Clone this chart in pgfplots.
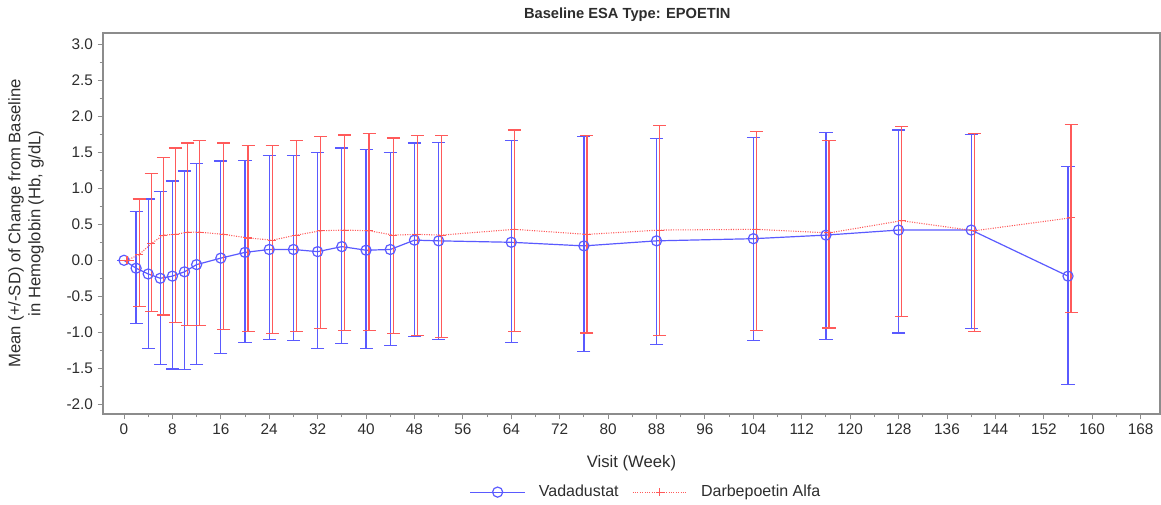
\documentclass[border=0pt]{standalone}
\usepackage{pgfplots}
\pgfplotsset{compat=1.18}
\usepackage{pgfplotstable}
\usepackage{fontspec}
\setmainfont{Liberation Sans}
\definecolor{vblue}{RGB}{90,90,255}
\definecolor{dred}{RGB}{255,90,90}
\definecolor{framegray}{RGB}{140,140,140}
\definecolor{txt}{RGB}{45,45,45}

% Vadadustat: week, mean, mean+SD, mean-SD
\pgfplotstableread{
x m hi lo
0 0.00 0.00 0.00
2 -0.11 0.68 -0.88
4 -0.19 0.85 -1.22
6 -0.25 0.95 -1.45
8 -0.22 1.10 -1.51
10 -0.16 1.24 -1.52
12 -0.06 1.34 -1.45
16 0.03 1.38 -1.29
20 0.11 1.39 -1.14
24 0.15 1.45 -1.10
28 0.15 1.46 -1.11
32 0.12 1.50 -1.22
36 0.19 1.56 -1.16
40 0.14 1.54 -1.22
44 0.15 1.50 -1.18
48 0.28 1.63 -1.06
52 0.27 1.64 -1.10
64 0.25 1.66 -1.14
76 0.20 1.72 -1.27
88 0.27 1.69 -1.17
104 0.30 1.71 -1.11
116 0.35 1.78 -1.10
128 0.42 1.81 -1.01
140 0.42 1.75 -0.95
156 -0.22 1.30 -1.73
}\vada

% Darbepoetin Alfa (plotted slightly offset): week, mean, mean+SD, mean-SD
\pgfplotstableread{
x m hi lo
0.5 0.00 0.00 0.00
2.5 0.08 0.85 -0.64
4.5 0.23 1.20 -0.71
6.5 0.35 1.43 -0.76
8.5 0.36 1.56 -0.86
10.5 0.39 1.63 -0.91
12.5 0.39 1.66 -0.91
16.5 0.36 1.63 -0.96
20.5 0.31 1.59 -0.99
24.5 0.28 1.59 -1.02
28.5 0.35 1.66 -0.99
32.5 0.41 1.72 -0.95
36.5 0.42 1.74 -0.97
40.5 0.41 1.76 -0.97
44.5 0.35 1.70 -1.02
48.5 0.36 1.73 -1.05
52.5 0.35 1.73 -1.07
64.5 0.43 1.81 -0.99
76.5 0.36 1.73 -1.01
88.5 0.42 1.87 -1.04
104.5 0.43 1.79 -0.97
116.5 0.38 1.66 -0.94
128.5 0.55 1.86 -0.78
140.5 0.41 1.76 -0.99
156.5 0.59 1.89 -0.73
}\darb

\begin{document}
\begin{tikzpicture}
\begin{axis}[
  at={(0pt,0pt)}, anchor=south west,
  scale only axis, width=792.75pt, height=285.75pt,
  xmin=-3.47, xmax=171.2, ymin=-2.135, ymax=3.157,
  xtick={0,8,...,168}, minor x tick num=1,
  ytick={-2,-1.5,-1,-0.5,0,0.5,1,1.5,2,2.5,3}, minor y tick num=1,
  yticklabel style={/pgf/number format/.cd, fixed, fixed zerofill, precision=1},
  /pgf/number format/assume math mode=true,
  tick align=outside, tick pos=left,
  major tick length=4pt, minor tick length=2.6pt,
  axis line style={framegray, line width=0.8pt},
  every tick/.style={framegray, line width=0.7pt},
  tick label style={font=\fontsize{11.5}{13}\selectfont, text=txt},
  xlabel={Visit (Week)},
  ylabel={Mean (+/-SD) of Change from Baseline\\in Hemoglobin (Hb, g/dL)},
  xlabel style={at={(axis description cs:0.5,-0.1286)}, anchor=center, font=\fontsize{12.5}{14}\selectfont, text=txt},
  ylabel style={at={(axis description cs:-0.0728,0.5)}, anchor=center, align=center, font=\fontsize{12.5}{15}\selectfont, text=txt},
  title={Baseline ESA Type: EPOETIN},
  title style={at={(axis description cs:0.496,1.026)}, anchor=center, font=\bfseries\fontsize{11}{13}\selectfont, text=txt},
  legend style={at={(axis description cs:0.514,-0.205)}, anchor=center, draw=none, fill=none,
    legend columns=2, column sep=8pt, font=\fontsize{12}{14}\selectfont, text=txt,
    /tikz/every even column/.append style={column sep=8pt}},
  legend image code/.code={\draw[mark repeat=2, mark phase=2, #1] plot coordinates {(0pt,0pt) (20.5pt,0pt) (41pt,0pt)};},
]
\addplot[vblue, line width=0.9pt, mark=o, mark size=3.8pt, mark options={solid, line width=0.9pt},
  error bars/.cd, y dir=both, y explicit,
  error bar style={vblue, line width=0.9pt, solid},
  error mark options={rotate=90, vblue, line width=0.9pt, mark size=4.9pt}]
  table[x=x, y=m, y error plus expr=\thisrow{hi}-\thisrow{m}, y error minus expr=\thisrow{m}-\thisrow{lo}] {\vada};
\addlegendentry{Vadadustat}
\addplot[dred, line width=0.8pt, densely dotted, mark=+, mark size=3pt, mark options={solid, line width=0.8pt},
  error bars/.cd, y dir=both, y explicit,
  error bar style={dred, line width=0.9pt, solid},
  error mark options={rotate=90, dred, line width=0.9pt, mark size=4.9pt}]
  table[x=x, y=m, y error plus expr=\thisrow{hi}-\thisrow{m}, y error minus expr=\thisrow{m}-\thisrow{lo}] {\darb};
\addlegendentry{Darbepoetin Alfa}
\end{axis}
\pgfresetboundingbox
\path[use as bounding box] (-77.25pt,-67.5pt) rectangle (793.5pt,310.5pt);
\end{tikzpicture}
\end{document}
